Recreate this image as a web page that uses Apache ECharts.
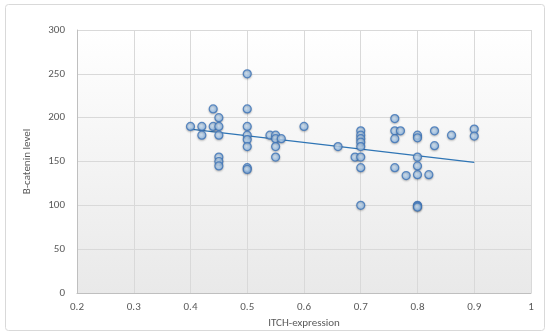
<!DOCTYPE html>
<html>
<head>
<meta charset="utf-8">
<script src="https://cdn.jsdelivr.net/npm/echarts@6/dist/echarts.min.js"></script>
<style>html,body{margin:0;padding:0;background:#fff}#c{width:550px;height:335px}</style>
</head>
<body>
<div id="c"></div>
<script>
// ITCH-expression (x) values
var itchX = [0.40,0.42,0.42,0.44,0.44,0.45,0.45,0.45,0.45,0.45,0.45,
  0.50,0.50,0.50,0.50,0.50,0.50,0.50,0.50,
  0.54,0.55,0.55,0.56,0.55,0.55,0.60,0.66,
  0.70,0.70,0.70,0.70,0.70,0.69,0.70,0.70,0.70,
  0.76,0.76,0.77,0.76,0.76,0.78,
  0.80,0.80,0.80,0.80,0.80,0.80,0.80,0.80,
  0.82,0.83,0.83,0.86,0.90,0.90];
// B-catenin level (y) values
var catY = [190,190,180,210,190,200,190,180,155,150,145,
  250,210,190,180,175,167,143,141,
  180,180,176,176,167,155,190,167,
  185,180,176,172,167,155,155,143,100,
  199,185,185,176,143,134,
  180,177,155,145,135,100,99,98,
  135,185,168,180,187,179];
// Linear trendline endpoints
var trendX = [0.4, 0.9];
var trendY = [187, 149];
var xTicks = [0.2,0.3,0.4,0.5,0.6,0.7,0.8,0.9,1];
var yTicks = [0,50,100,150,200,250,300];

var pts = itchX.map(function(x,i){return [x, catY[i]];});
var trend = trendX.map(function(x,i){return [x, trendY[i]];});

var chart = echarts.init(document.getElementById('c'), null, {renderer:'canvas'});
var font = 'Calibri, Carlito, "Open Sans", "Liberation Sans", sans-serif';
chart.setOption({
  animation:false,
  backgroundColor:'#ffffff',
  graphic:[{
    type:'rect', left:5, top:4, z:-10,
    shape:{width:539, height:326, r:3},
    style:{fill:'#ffffff', stroke:'#d9d9d9', lineWidth:1}
  }],
  grid:{left:77, right:19, top:30, bottom:42, show:true, borderWidth:0,
    backgroundColor:new echarts.graphic.LinearGradient(0,0,0,1,[{offset:0,color:'#ffffff'},{offset:1,color:'#e9e9e9'}])},
  xAxis:{type:'value', min:0.2, max:1, interval:0.1,
    name:'ITCH-expression', nameLocation:'middle', nameGap:22,
    nameTextStyle:{color:'#595959', fontSize:11, fontFamily:font},
    axisLine:{show:true, onZero:false, lineStyle:{color:'#bfbfbf'}},
    axisTick:{show:false},
    splitLine:{show:true, lineStyle:{color:'#d9d9d9'}},
    axisLabel:{color:'#595959', fontSize:11, fontFamily:font, margin:9,
      formatter:function(v){var r=Math.round(v*10)/10; return xTicks.indexOf(r)>=0? String(r):'';}}
  },
  yAxis:{type:'value', min:0, max:300, interval:50,
    name:'B-catenin level', nameLocation:'middle', nameGap:44, nameRotate:90,
    nameTextStyle:{color:'#595959', fontSize:11, fontFamily:font},
    axisLine:{show:true, lineStyle:{color:'#bfbfbf'}},
    axisTick:{show:false},
    splitLine:{show:true, lineStyle:{color:'#d9d9d9'}},
    axisLabel:{color:'#595959', fontSize:11, fontFamily:font, margin:12,
      formatter:function(v){return yTicks.indexOf(v)>=0? String(v):'';}}
  },
  series:[
    {type:'line', data:trend, symbol:'none', z:3,
      lineStyle:{color:'#2f75b5', width:1.3}},
    {type:'scatter', data:pts, symbol:'circle', symbolSize:8, z:4,
      itemStyle:{
        color:new echarts.graphic.RadialGradient(0.4,0.4,0.6,[{offset:0,color:'#d2e4f5'},{offset:1,color:'#86b3e2'}]),
        borderColor:'#3c73b8', borderWidth:1.2,
        shadowColor:'rgba(0,0,0,0.25)', shadowBlur:2, shadowOffsetY:1}
    }
  ]
});
</script>
</body>
</html>
